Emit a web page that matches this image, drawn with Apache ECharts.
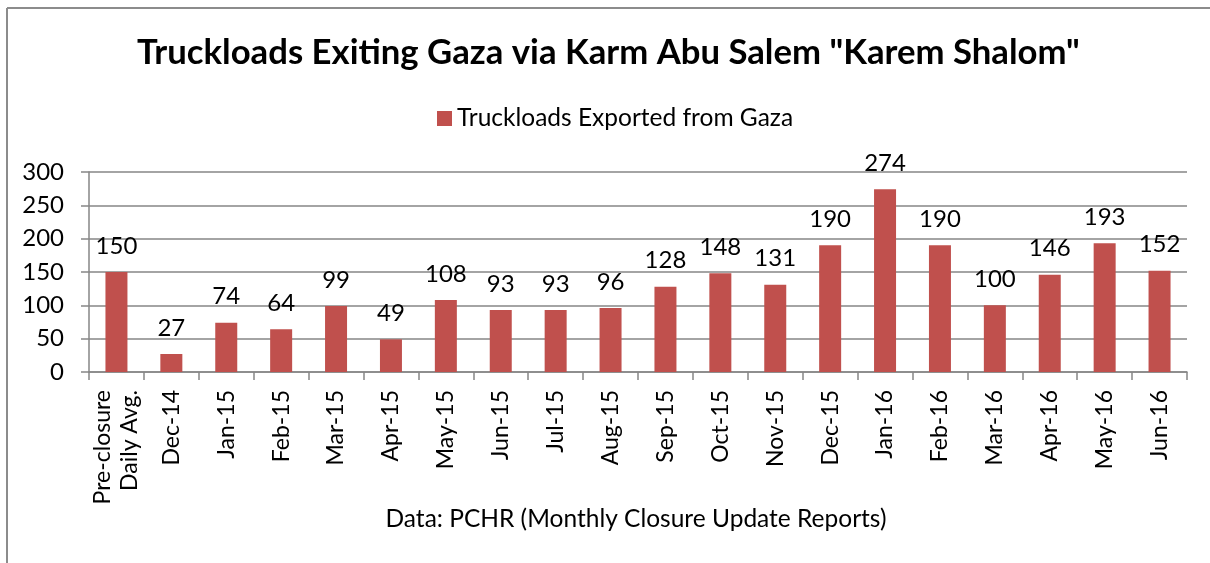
<!DOCTYPE html>
<html><head><meta charset="utf-8">
<script src="https://cdn.jsdelivr.net/npm/echarts@6/dist/echarts.min.js"></script>
<style>html,body{margin:0;padding:0;background:#fff}#c{width:1210px;height:563px}</style>
</head><body><div id="c"></div>
<script>
const categories = ["Pre-closure\nDaily Avg.","Dec-14","Jan-15","Feb-15","Mar-15","Apr-15","May-15","Jun-15","Jul-15","Aug-15","Sep-15","Oct-15","Nov-15","Dec-15","Jan-16","Feb-16","Mar-16","Apr-16","May-16","Jun-16"];
const values = [150,27,74,64,99,49,108,93,93,96,128,148,131,190,274,190,100,146,193,152];
const seriesName = "Truckloads Exported from Gaza";
const titleText = 'Truckloads Exiting Gaza via Karm Abu Salem "Karem Shalom"';
const sourceText = "Data: PCHR (Monthly Closure Update Reports)";
const FONT = "Lato";
const chart = echarts.init(document.getElementById('c'), null, {renderer:'canvas'});
chart.setOption({
  animation:false,
  backgroundColor:'#fff',
  textStyle:{fontFamily:FONT},
  title:{text:titleText,left:137,top:35,padding:0,textStyle:{fontFamily:FONT,fontWeight:'bold',fontSize:34.7,color:'#000'}},
  legend:{data:[seriesName],top:101,left:432,itemWidth:15,itemHeight:15,icon:'rect',itemGap:7,
    textStyle:{fontFamily:FONT,fontSize:24.5,color:'#000'}},
  graphic:[
    {type:'line',shape:{x1:7,y1:8,x2:1210,y2:8},style:{stroke:'#8c8c8c',lineWidth:2}},
    {type:'line',shape:{x1:7,y1:8,x2:7,y2:563},style:{stroke:'#8c8c8c',lineWidth:2}},
    {type:'text',x:636,y:507,style:{text:sourceText,font:'24.5px '+FONT,fill:'#000',textAlign:'center'}}
  ],
  grid:{left:89,right:23,top:172,bottom:191,containLabel:false},
  xAxis:{type:'category',data:categories,
    axisLine:{lineStyle:{color:'#868686',width:1.5}},
    axisTick:{show:true,length:8,alignWithLabel:false,lineStyle:{color:'#868686',width:1.5}},
    axisLabel:{interval:0,rotate:90,margin:18,fontFamily:FONT,fontSize:23,color:'#000',lineHeight:27}},
  yAxis:{type:'value',min:0,max:300,interval:50,
    axisLine:{show:true,lineStyle:{color:'#868686',width:1.5}},
    axisTick:{show:true,length:8,lineStyle:{color:'#868686',width:1.5}},
    splitLine:{lineStyle:{color:'#868686',width:1.5}},
    axisLabel:{margin:25,fontFamily:FONT,fontSize:24,color:'#000'}},
  series:[{name:seriesName,type:'bar',data:values,barWidth:22,
    itemStyle:{color:'#C0504D'},
    label:{show:true,position:'top',distance:14,fontFamily:FONT,fontSize:24,color:'#000'}}]
});
</script></body></html>
